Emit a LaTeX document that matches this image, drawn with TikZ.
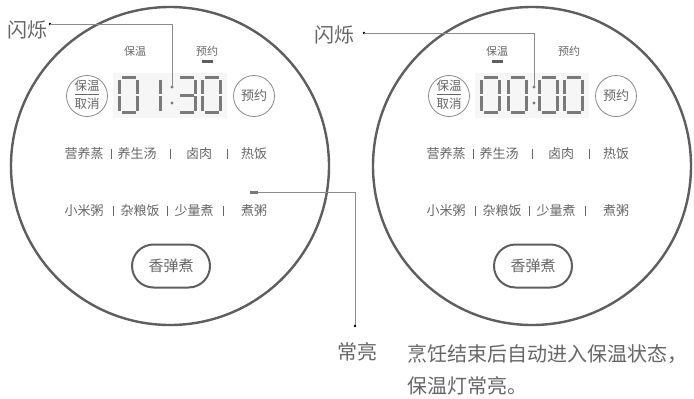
\documentclass[tikz,border=0pt]{standalone}
\usepackage{fontspec}
\setmainfont{Noto Sans CJK SC}
\definecolor{ring}{HTML}{5E5E5E}
\definecolor{txt}{HTML}{666666}
\definecolor{segc}{HTML}{7A7A7A}
\definecolor{lcd}{HTML}{F6F6F6}
\definecolor{thin}{HTML}{8A8A8A}
\tikzset{
  sga/.pic={\fill[segc] (3.5,0) rectangle (17.5,3);},
  sgb/.pic={\fill[segc] (18,3.5) rectangle (21,18);},
  sgc/.pic={\fill[segc] (18,20) rectangle (21,34.5);},
  sgd/.pic={\fill[segc] (3.5,35) rectangle (17.5,38);},
  sge/.pic={\fill[segc] (0,20) rectangle (3,34.5);},
  sgf/.pic={\fill[segc] (0,3.5) rectangle (3,18);},
  sgg/.pic={\fill[segc] (3.5,17.5) rectangle (17.5,20.5);},
  lbl/.style={text=txt, inner sep=0},
  btn/.style={draw=thin, line width=0.8, circle, minimum size=41, inner sep=0},
  pipe/.style={draw=txt, line width=0.8},
  conn/.style={draw=thin, line width=0.9},
}
\newcommand\segdigit[2]{\foreach \s in {#2} {\pic at (#1,76) {sg\s};}}
\newcommand\panel[8]{%
\begin{scope}[shift={(#2,0)}]
  \node[draw=ring, line width=2.4, circle, minimum size=318, inner sep=0] (#1ring) at (0,166) {};
  \fill[lcd] (-57,73) rectangle (57,118);
  \segdigit{-52}{#4}
  \segdigit{#8}{#5}
  \segdigit{6}{#6}
  \segdigit{31}{#7}
  \fill[segc] (2,87) circle (1.6) coordinate (#1colon);
  \fill[segc] (2,103) circle (1.6);
  % buttons
  \node[btn] (#1cancel) at (-83,96) {};
  \node[lbl, font=\fontsize{12.5}{12.5}\selectfont] (#1cancelA) at (-83,85.5) {保温};
  \node[lbl, font=\fontsize{12.5}{12.5}\selectfont] (#1cancelB) at (-83,104) {取消};
  \draw[txt, line width=0.7] (-95,94.5) -- (-71,94.5);
  \node[btn] (#1pre) at (84,96) {};
  \node[lbl, font=\fontsize{13}{13}\selectfont] (#1preT) at (84,96) {预约};
  % top labels
  \node[lbl, font=\fontsize{11}{11}\selectfont] (#1tKeep) at (-35,51) {保温};
  \node[lbl, font=\fontsize{11}{11}\selectfont] (#1tPre) at (37,51) {预约};
  \draw[ring, line width=3] (#3-5.5,61) -- (#3+5.5,61);
  % mode rows
  \begin{scope}[every node/.style={lbl, font=\fontsize{13}{13}\selectfont}]
    \node (#1m1) at (-86,154) {营养蒸};
    \node (#1m2) at (-33,154) {养生汤};
    \node (#1m3) at (29,154) {卤肉};
    \node (#1m4) at (84,154) {热饭};
    \node (#1m5) at (-86,211) {小米粥};
    \node (#1m6) at (-30,211) {杂粮饭};
    \node (#1m7) at (24,211) {少量煮};
    \node (#1m8) at (84,211) {煮粥};
  \end{scope}
  \foreach \px in {-59,0,57} {\draw[pipe] (\px,149) -- (\px,159);}
  \foreach \px in {-57,-3,53} {\draw[pipe] (\px,206) -- (\px,216);}
  % fragrant button
  \node[draw=ring, line width=2, rounded corners=21.5, minimum width=78, minimum height=43, inner sep=0,
        text=txt, font=\fontsize{15}{15}\selectfont] (#1xiang) at (1,266) {香弹煮};
\end{scope}}

\begin{document}
\begin{tikzpicture}[x=1pt,y=-1pt]
\useasboundingbox (0,0) rectangle (694,399);
\fill[white] (0,0) rectangle (694,399);

\panel{L}{170}{37}{a,b,c,d,e,f}{b,c}{a,b,c,d,g}{a,b,c,d,e,f}{-29}
\panel{R}{532}{-35}{a,b,c,d,e,f}{a,b,c,d,e,f}{a,b,c,d,e,f}{a,b,c,d,e,f}{-25}

% flash labels
\node[lbl, font=\fontsize{20}{20}\selectfont] (Lflash) at (27,30) {闪烁};
\node[lbl, font=\fontsize{20}{20}\selectfont] (Rflash) at (334,35) {闪烁};
\coordinate (Lfd) at (50,24);
\coordinate (Rfd) at (364,33);
\fill[thin] (Lfd) circle (1.4);
\fill[thin] (Rfd) circle (1.4);
\draw[conn] (Lfd) -| (Lcolon);
\draw[conn] (Rfd) -| (Rcolon);

% steady-on connector
\coordinate (ledA) at (250,192);
\coordinate (ledB) at (258,192);
\coordinate (stEnd) at (355,326);
\draw[segc, line width=3] (ledA) -- (ledB);
\draw[conn] (ledB) -| (stEnd);
\fill[thin] (stEnd) circle (1.4);
\node[lbl, font=\fontsize{20}{20}\selectfont] (steady) at (357,352) {常亮};

% caption
\node[lbl, anchor=west, font=\fontsize{20}{20}\selectfont] (cap1) at (407,354) {烹饪结束后自动进入保温状态，};
\node[lbl, anchor=west, font=\fontsize{20}{20}\selectfont] (cap2) at (407,386) {保温灯常亮。};
\end{tikzpicture}
\end{document}
